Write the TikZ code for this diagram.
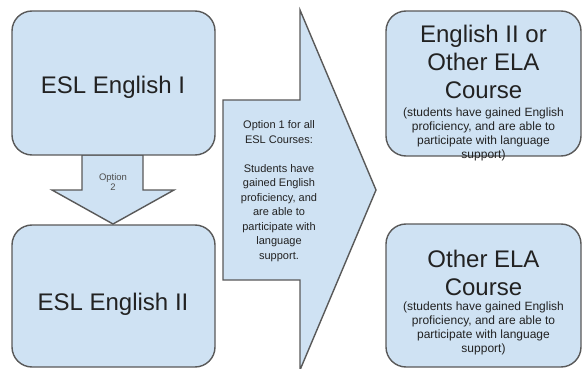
\documentclass[tikz,border=0pt]{standalone}
\usepackage{fontspec}
\setmainfont{Liberation Sans}
\definecolor{boxfill}{HTML}{CFE2F3}
\definecolor{boxline}{HTML}{595959}
\definecolor{txt}{HTML}{222222}
\begin{document}
\begin{tikzpicture}[x=1pt,y=-1pt,
  shapebox/.style={fill=boxfill,draw=boxline,line width=1.4pt,rounded corners=20pt,inner sep=0pt},
  arrowshape/.style={fill=boxfill,draw=boxline,line width=1.4pt,line join=miter},
  bigtext/.style={font=\fontsize{24}{28}\selectfont,text=txt,align=center,inner sep=0pt},
  smalltext/.style={font=\fontsize{12}{14}\selectfont,text=txt,align=center,inner sep=0pt},
  arrowtext/.style={font=\fontsize{11}{14.5}\selectfont,text=txt,align=center,inner sep=0pt},
  tinytext/.style={font=\fontsize{9.5}{10.5}\selectfont,text=txt!80,align=center,inner sep=0pt}]
\useasboundingbox (0,0) rectangle (582,369);

% down arrow (option 2)
\draw[arrowshape] (82,155) -- (143,155) -- (143,190) -- (174,190) -- (113,224)
  -- (52,190) -- (82,190) -- cycle;
% right arrow (option 1)
\draw[arrowshape] (223,100) -- (300,100) -- (300,10) -- (376,190) -- (300,370)
  -- (300,280) -- (223,280) -- cycle;

% boxes
\draw[shapebox] (12,11) rectangle (215,155);
\draw[shapebox] (12,225) rectangle (215,367);
\draw[shapebox] (386,11) rectangle (581,156);
\draw[shapebox] (386,224) rectangle (581,367);

% texts
\node[bigtext] (t1) at (113,87) {ESL English I};
\node[bigtext] (t2) at (113,304) {ESL English II};
\node[tinytext] (opt2) at (113,182) {Option\\2};
\node[arrowtext] (opt1) at (279,191) {Option 1 for all\\ESL Courses:\\[14.5pt]Students have\\gained English\\proficiency, and\\are able to\\participate with\\language\\support.};
\node[bigtext] (r1title) at (483.5,62) {English II or\\Other ELA\\Course};
\node[smalltext] (r1sub) at (483.5,134) {(students have gained English\\proficiency, and are able to\\participate with language\\support)};
\node[bigtext] (r2title) at (483.5,273) {Other ELA\\Course};
\node[smalltext] (r2sub) at (483.5,328) {(students have gained English\\proficiency, and are able to\\participate with language\\support)};
\end{tikzpicture}
\end{document}
